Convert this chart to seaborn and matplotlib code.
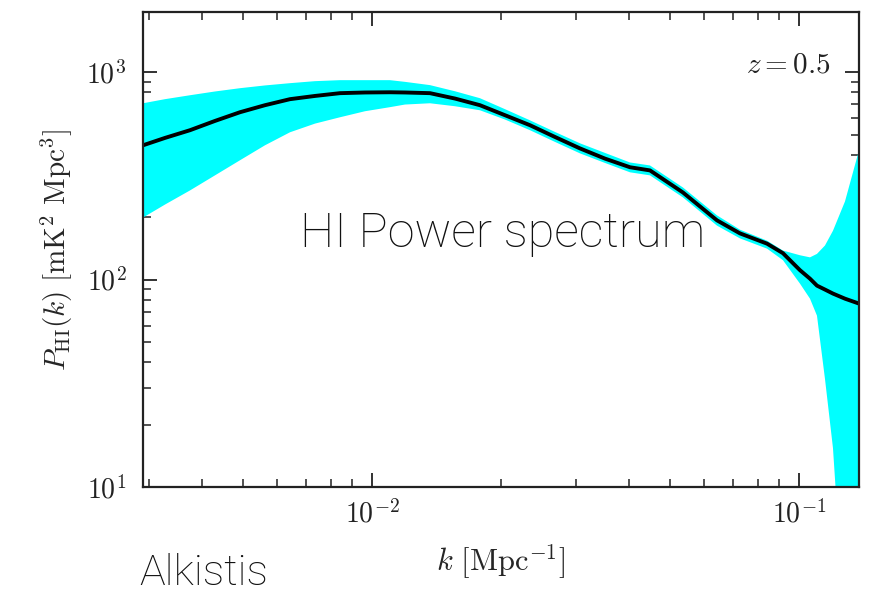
import numpy as np
import pandas as pd
import matplotlib
matplotlib.use("Agg")
import matplotlib.pyplot as plt
import seaborn as sns

# k [Mpc^-1] sample points
k = [0.002909, 0.003276, 0.003748, 0.004289, 0.004908, 0.005616, 0.006427,
     0.007357, 0.008415, 0.009630, 0.011020, 0.011948, 0.013673, 0.015646,
     0.017900, 0.020489, 0.023442, 0.026827, 0.030694, 0.035130, 0.040196,
     0.044779, 0.053485, 0.064267, 0.072744, 0.084180, 0.091730, 0.10054,
     0.10612, 0.11019, 0.11505, 0.12012, 0.12815, 0.13822]

# central HI power spectrum [mK^2 Mpc^3]
p_hi = [444, 482, 525, 582, 641, 693, 741,
        768, 792, 798, 800, 798, 792, 746,
        693, 620, 555, 487, 429, 383, 348,
        336, 263, 193, 167, 149, 134, 111,
        101, 93.5, 89.5, 85.6, 80.9, 76.6]

# upper / lower edge of the shaded band
p_up = [708, 741, 774, 807, 837, 863, 885,
        905, 915, 915, 915, 898, 866, 809,
        749, 663, 586, 515, 454, 408, 367,
        355, 278, 204, 174, 154, 138, 131,
        128, 133, 146, 172, 238, 420]
p_lo = [199, 230, 269, 318, 376, 444, 513,
        565, 606, 648, 678, 698, 708, 685,
        655, 591, 525, 461, 406, 365, 329,
        318, 249, 182, 158, 141, 124, 95.6,
        80.9, 67.0, 33.2, 15.4, 2.0, 1.0]

df = pd.DataFrame({"k": k, "P": p_hi})

sns.set_theme(style="ticks")
plt.rcParams["font.family"] = ["DejaVu Serif"]
plt.rcParams["mathtext.fontset"] = "cm"
plt.rcParams["mathtext.rm"] = "serif"

fig = plt.figure(figsize=(8.71, 5.93), dpi=100)
ax = fig.add_axes([143 / 871, 1 - 487 / 593, 716 / 871, 475 / 593])

ax.fill_between(k, p_lo, p_up, color="#00ffff", lw=0)
sns.lineplot(data=df, x="k", y="P", ax=ax, color="black", lw=2.8)

ax.set_xscale("log")
ax.set_yscale("log")
ax.set_xlim(0.002909, 0.13822)
ax.set_ylim(10, 1950)

ax.tick_params(which="both", direction="in", top=True, right=True,
               colors="#222222", labelsize=20)
ax.tick_params(which="major", length=10, width=1.3)
ax.tick_params(which="minor", length=6, width=1.1)
for s in ax.spines.values():
    s.set_linewidth(1.6)
    s.set_color("#222222")

ax.set_xticks([0.01, 0.1])
ax.set_xticklabels([r"$10^{\mathsf{-}2}$", r"$10^{\mathsf{-}1}$"])
ax.set_yticks([10, 100, 1000])
ax.set_yticklabels([r"$10^1$", r"$10^2$", r"$10^3$"])
ax.tick_params(axis="x", pad=9)
ax.tick_params(axis="y", pad=12)

ax.set_xlabel(r"$k\ [\mathrm{Mpc}^{-1}]$", fontsize=22, labelpad=10)
ax.set_ylabel(r"$P_{\mathrm{HI}}(k)\ [\mathrm{mK}^2\ \mathrm{Mpc}^3]$",
              fontsize=21, labelpad=8)

ax.text(0.9595, 0.8905, r"$z=0.5$", transform=ax.transAxes,
        ha="right", va="center", fontsize=21, color="#222222")

fig.text(300 / 871, 1 - 247 / 593, "HI Power spectrum", fontsize=35,
         family=["Roboto", "DejaVu Sans"], fontweight="light",
         ha="left", va="baseline", color="#111111")
fig.text(139 / 871, 1 - 585 / 593, "Alkistis", fontsize=31,
         family=["Roboto", "DejaVu Sans"], fontweight="light",
         ha="left", va="baseline", color="#111111")

fig.savefig("out.png", dpi=100)
